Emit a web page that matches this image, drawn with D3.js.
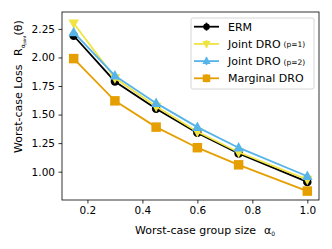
<!DOCTYPE html>
<html>
<head>
<meta charset="utf-8">
<script src="https://d3js.org/d3.v7.min.js"></script>
<style>
  body { margin: 0; background: #fff; }
  text { font-family: "DejaVu Sans", sans-serif; }
</style>
</head>
<body>
<script>
// group sizes on the x axis
var alphas = [0.15, 0.3, 0.45, 0.6, 0.75, 1.0];

// worst-case loss per method
var erm      = [2.19, 1.79, 1.55, 1.34, 1.16, 0.91];
var jointP1  = [2.30, 1.82, 1.57, 1.35, 1.17, 0.93];
var jointP2  = [2.22, 1.84, 1.60, 1.39, 1.21, 0.96];
var marginal = [1.99, 1.62, 1.39, 1.21, 1.06, 0.83];

var xTicks = [0.2, 0.4, 0.6, 0.8, 1.0];
var yTicks = [1.00, 1.25, 1.50, 1.75, 2.00, 2.25];

var series = [
  {name: "ERM", sub: "", vals: erm, color: "#000000", marker: "circle"},
  {name: "Joint DRO", sub: "(p=1)", vals: jointP1, color: "#f0e442", marker: "down"},
  {name: "Joint DRO", sub: "(p=2)", vals: jointP2, color: "#56b4e9", marker: "up"},
  {name: "Marginal DRO", sub: "", vals: marginal, color: "#e69f00", marker: "square"}
];

var W = 332, H = 249;
var pl = 62, pr = 319, pt = 12, pb = 200;

var svg = d3.select("body").append("svg")
    .attr("width", W).attr("height", H);

var x = d3.scaleLinear().domain([0.1075, 1.0425]).range([pl, pr]);
var y = d3.scaleLinear().domain([0.752, 2.398]).range([pb, pt]);

// axes
var xAxis = svg.append("g")
    .attr("transform", "translate(0," + pb + ")")
    .call(d3.axisBottom(x).tickValues(xTicks).tickFormat(d3.format(".1f")).tickSize(3.5).tickPadding(3.5));
var yAxis = svg.append("g")
    .attr("transform", "translate(" + pl + ",0)")
    .call(d3.axisLeft(y).tickValues(yTicks).tickFormat(d3.format(".2f")).tickSize(3.5).tickPadding(3.5));
[xAxis, yAxis].forEach(function(a) {
  a.selectAll("text").attr("font-size", 10.5).attr("fill", "#000")
    .attr("font-family", "DejaVu Sans");
  a.selectAll("line").attr("stroke", "#000").attr("stroke-width", 0.8);
  a.select(".domain").remove();
});

// frame
svg.append("rect")
    .attr("x", pl).attr("y", pt)
    .attr("width", pr - pl).attr("height", pb - pt)
    .attr("fill", "none").attr("stroke", "#000").attr("stroke-width", 0.8);

function markerPath(type, s) {
  if (type === "circle") return d3.symbol(d3.symbolCircle, s * s * Math.PI / 4)();
  if (type === "square") return "M" + (-s/2) + "," + (-s/2) + "h" + s + "v" + s + "h" + (-s) + "Z";
  if (type === "up") return "M0," + (-s*0.6) + "L" + (s*0.55) + "," + (s*0.4) + "L" + (-s*0.55) + "," + (s*0.4) + "Z";
  return "M0," + (s*0.6) + "L" + (s*0.55) + "," + (-s*0.4) + "L" + (-s*0.55) + "," + (-s*0.4) + "Z";
}

var line = d3.line()
    .x(function(d, i) { return x(alphas[i]); })
    .y(function(d) { return y(d); });

series.forEach(function(s) {
  var g = svg.append("g");
  g.append("path").datum(s.vals)
      .attr("d", line)
      .attr("fill", "none")
      .attr("stroke", s.color)
      .attr("stroke-width", 1.8);
  g.selectAll("path.m").data(s.vals).enter().append("path")
      .attr("class", "m")
      .attr("d", markerPath(s.marker, s.marker === "circle" ? 8.5 : 9.5))
      .attr("transform", function(d, i) { return "translate(" + x(alphas[i]) + "," + y(d) + ")"; })
      .attr("fill", s.color);
});

// legend
var lg = svg.append("g");
lg.append("rect")
    .attr("x", 191).attr("y", 18).attr("width", 123).attr("height", 71)
    .attr("rx", 2).attr("fill", "#fff").attr("fill-opacity", 0.8)
    .attr("stroke", "#ccc").attr("stroke-width", 0.8);
series.forEach(function(s, i) {
  var yy = 26.7 + i * 17.2;
  lg.append("line").attr("x1", 194).attr("x2", 219).attr("y1", yy).attr("y2", yy)
      .attr("stroke", s.color).attr("stroke-width", 1.8);
  lg.append("line").attr("x1", 206.5).attr("x2", 206.5).attr("y1", yy - 4).attr("y2", yy + 4)
      .attr("stroke", s.color).attr("stroke-width", 1.6);
  lg.append("path").attr("d", markerPath(s.marker, s.marker === "circle" ? 6.5 : 7.5))
      .attr("transform", "translate(206.5," + yy + ")")
      .attr("fill", s.color);
  var t = lg.append("text").attr("x", 228).attr("y", yy + 4)
      .attr("font-size", 11).attr("fill", "#000")
      .attr("font-family", "DejaVu Sans").text(s.name);
  if (s.sub) {
    t.append("tspan").attr("font-size", 7.5).attr("dx", 3).attr("dy", -0.5).text(s.sub);
  }
});

// axis labels
svg.append("text")
    .attr("x", 135).attr("y", 234)
    .attr("font-size", 11).attr("font-family", "Open Sans")
    .attr("fill", "#000")
    .text("Worst-case group size");
var al = svg.append("text")
    .attr("x", 264).attr("y", 234)
    .attr("font-size", 11).attr("font-family", "Open Sans")
    .attr("fill", "#000").text("α");
al.append("tspan").attr("font-size", 6).attr("dy", 1.5).text("0");

var yl = svg.append("text")
    .attr("transform", "translate(22,153) rotate(-90)")
    .attr("font-size", 11).attr("font-family", "Open Sans")
    .attr("fill", "#000")
    .text("Worst-case Loss");
var rl = svg.append("text")
    .attr("transform", "translate(22,56) rotate(-90)")
    .attr("font-size", 11).attr("font-family", "Open Sans")
    .attr("fill", "#000").text("R");
rl.append("tspan").attr("font-size", 6).attr("dy", 2.5).text("α");
rl.append("tspan").attr("font-size", 4).attr("dy", 1).text("joint");
rl.append("tspan").attr("font-size", 11).attr("dy", -3.5).text("(θ)");
</script>
</body>
</html>
